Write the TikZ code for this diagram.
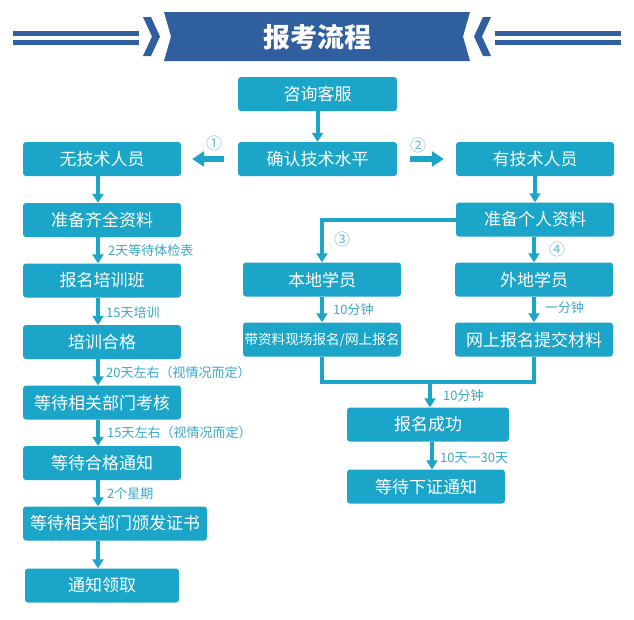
\documentclass[tikz,border=0pt]{standalone}
\usepackage{fontspec}
\setmainfont{Noto Sans CJK SC}
\usetikzlibrary{arrows.meta,calc}
\definecolor{boxc}{HTML}{1BA5C8}
\definecolor{labc}{HTML}{3AA8C8}
\definecolor{circc}{HTML}{6FB9CD}
\definecolor{hdr}{HTML}{2F5F9F}
\tikzset{
  box/.style={fill=boxc, rounded corners=3pt, text=white, minimum height=34pt, inner sep=0pt,
    font=\fontsize{17}{17}\selectfont},
  lab/.style={text=labc, anchor=west, inner sep=0pt, font=\fontsize{13}{13}\selectfont},
  circ/.style={text=circc, inner sep=0pt, font=\fontsize{16}{16}\selectfont},
  varrow/.style={draw=boxc, line width=4pt, -{Triangle[width=11pt,length=9pt]}},
  harrow/.style={draw=boxc, line width=6pt, -{Triangle[width=15pt,length=12pt]}},
  conn/.style={draw=boxc, line width=4pt}
}
\begin{document}
\begin{tikzpicture}[x=1pt,y=-1pt]
\useasboundingbox[fill=white] (0,0) rectangle (634,619);
% header
\fill[hdr] (13,31) rectangle (139,36);
\fill[hdr] (13,40) rectangle (139,45);
\fill[hdr] (495,31) rectangle (621,36);
\fill[hdr] (495,40) rectangle (621,45);
\fill[hdr] (143,17) -- (151,17) -- (160,36.5) -- (151,56) -- (143,56) -- (152,36.5) -- cycle;
\fill[hdr] (491,17) -- (483,17) -- (474,36.5) -- (483,56) -- (491,56) -- (482,36.5) -- cycle;
\fill[hdr] (164,12) -- (470,12) -- (463,36.5) -- (470,61) -- (164,61) -- (171,36.5) -- cycle;
\node[text=white, font=\fontsize{27}{27}\selectfont\bfseries] (title) at (317,37) {报考流程};
% boxes
\node[box, minimum width=159pt] (zixun) at (317.5,94) {咨询客服};
\node[box, minimum width=159pt] (queren) at (317.5,159) {确认技术水平};
\node[box, minimum width=158pt] (wu) at (102,159) {无技术人员};
\node[box, minimum width=158pt] (you) at (535,159) {有技术人员};
\node[box, minimum width=158pt] (zb1) at (102,220) {准备齐全资料};
\node[box, minimum width=158pt] (bmpx) at (102,280.5) {报名培训班};
\node[box, minimum width=158pt] (pxhg) at (102,342) {培训合格};
\node[box, minimum width=158pt] (kaohe) at (102,402.5) {等待相关部门考核};
\node[box, minimum width=158pt] (hgtz) at (102,463) {等待合格通知};
\node[box, minimum width=184pt] (banfa) at (115,523.5) {等待相关部门颁发证书};
\node[box, minimum width=154pt] (lingqu) at (102,585.5) {通知领取};
\node[box, minimum width=158pt] (zb2) at (535,219.5) {准备个人资料};
\node[box, minimum width=158pt] (bendi) at (322,279.5) {本地学员};
\node[box, minimum width=158pt] (waidi) at (534,279.5) {外地学员};
\node[box, minimum width=158pt, font=\fontsize{13.6}{13.6}\selectfont] (dai) at (322,339.5) {带资料现场报名/网上报名};
\node[box, minimum width=158pt] (wsbm) at (534,339.5) {网上报名提交材料};
\node[box, minimum width=162pt] (cg) at (428,424.5) {报名成功};
\node[box, minimum width=158pt] (xz) at (426,486.5) {等待下证通知};
% top arrows
\draw[varrow] (zixun.south) -- (queren.north);
\draw[harrow, shorten <=14pt, shorten >=11pt] (queren.west) -- (wu.east);
\draw[harrow, shorten <=13pt, shorten >=12pt] (queren.east) -- (you.west);
\node[circ] (c1) at (214,143) {①};
\node[circ] (c2) at (418,145) {②};
% left column
\coordinate (lx) at (98,0);
\draw[varrow] (wu.south-|lx) -- (zb1.north-|lx);
\draw[varrow] (zb1.south-|lx) -- (bmpx.north-|lx);
\draw[varrow] (bmpx.south-|lx) -- (pxhg.north-|lx);
\draw[varrow] (pxhg.south-|lx) -- (kaohe.north-|lx);
\draw[varrow] (kaohe.south-|lx) -- (hgtz.north-|lx);
\draw[varrow] (hgtz.south-|lx) -- (banfa.north-|lx);
\draw[varrow] (banfa.south-|lx) -- (lingqu.north-|lx);
\node[lab] (l1) at (108,251) {2天等待体检表};
\node[lab] (l2) at (106,313) {15天培训};
\node[lab] (l3) at (106,373) {20天左右（视情况而定）};
\node[lab] (l4) at (107,433) {15天左右（视情况而定）};
\node[lab] (l5) at (107,494) {2个星期};
% right branch
\draw[varrow] (you.south) -- (zb2.north-|you.south);
\draw[varrow] (zb2.west) -| (bendi.north);
\draw[varrow] (zb2.south-|waidi.north) -- (waidi.north);
\draw[varrow] (bendi.south) -- (dai.north);
\draw[varrow] (waidi.south) -- (wsbm.north);
\node[circ] (c3) at (342,239) {③};
\node[circ] (c4) at (557,249) {④};
\node[lab] (l6) at (333,310) {10分钟};
\node[lab] (l7) at (545,308) {一分钟};
\coordinate (j) at (430,382);
\coordinate (js) at (430,380);
\draw[conn] (dai.south) |- (j) -| (wsbm.south);
\draw[varrow] (js) -- (cg.north-|js);
\coordinate (cgx) at (432,0);
\draw[varrow] (cg.south-|cgx) -- (xz.north-|cgx);
\node[lab] (l8) at (443,396) {10分钟};
\node[lab] (l9) at (440,458) {10天一30天};
\end{tikzpicture}
\end{document}
